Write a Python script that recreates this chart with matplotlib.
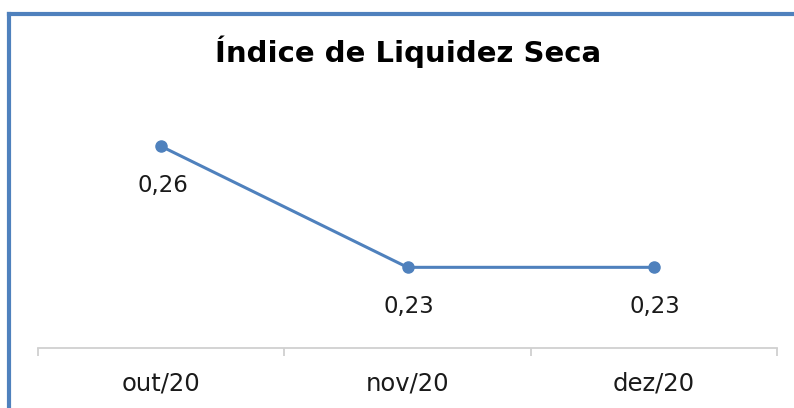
import matplotlib.pyplot as plt
from matplotlib.lines import Line2D

# dados
meses = ["out/20", "nov/20", "dez/20"]
valores = [0.26, 0.23, 0.23]
rotulos = ["0,26", "0,23", "0,23"]

azul = "#4F81BD"
W, H = 794, 408

plt.rcParams['font.family'] = ['DejaVu Sans']
fig = plt.figure(figsize=(W / 100, H / 100), dpi=100)

# area do grafico (em pixels: x 38..777, y 106..348)
ax = fig.add_axes([38 / W, 1 - 348 / H, (777 - 38) / W, (348 - 106) / H])
x = list(range(len(meses)))
ax.plot(x, valores, color=azul, lw=2.2, marker="o", ms=8, zorder=3)
ax.set_xlim(-0.5, len(meses) - 0.5)
ax.set_ylim(0.21, 0.27)

for xi, v, r in zip(x, valores, rotulos):
    ax.annotate(r, (xi, v), xytext=(1, -28.5), textcoords="offset points",
                ha="center", va="center", fontsize=16.5, color="#1a1a1a")

for s in ["top", "right", "left"]:
    ax.spines[s].set_visible(False)
ax.spines["bottom"].set_color("#d0d0d0")
ax.spines["bottom"].set_linewidth(1.3)
ax.set_yticks([])
ax.set_xticks([-0.5, 0.5, 1.5, 2.5])
ax.set_xticklabels([])
ax.tick_params(axis="x", length=6, color="#d0d0d0", width=1.3)
ax.set_xticks(x, minor=True)
ax.set_xticklabels(meses, minor=True, fontsize=17.5, color="#1a1a1a")
ax.tick_params(axis="x", which="minor", length=0, pad=17)

fig.text(408 / W, 1 - 62 / H, "Índice de Liquidez Seca", ha="center", va="baseline",
         fontsize=21, fontweight="bold", color="#000000")

# moldura azul (esquerda e topo)
fig.add_artist(Line2D([8.5 / W, 8.5 / W], [0, 1 - 14 / H], color=azul, lw=3,
                      transform=fig.transFigure, solid_capstyle="projecting"))
fig.add_artist(Line2D([8.5 / W, 1], [1 - 14 / H, 1 - 14 / H], color=azul, lw=3,
                      transform=fig.transFigure, solid_capstyle="projecting"))

fig.savefig("out.png", dpi=100)
